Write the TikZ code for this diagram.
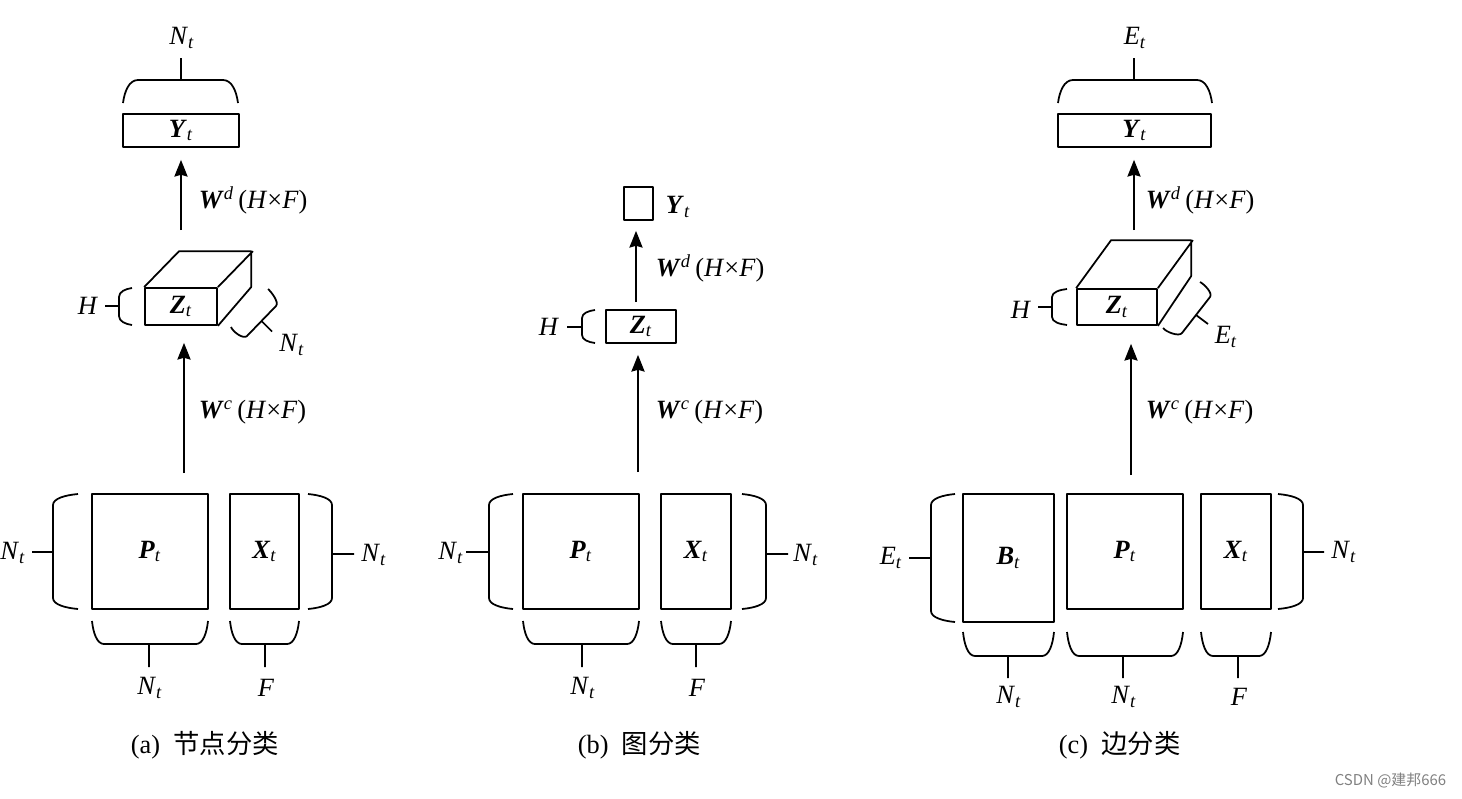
\documentclass[tikz,border=0pt]{standalone}
\usepackage{fontspec}
\setmainfont{Liberation Serif}
\newfontfamily\cjk{Noto Sans CJK SC}
\usetikzlibrary{arrows.meta}

\newcommand{\vsub}[2]{\textit{#1}\textsubscript{\textit{#2}}}
\newcommand{\bsub}[2]{\textbf{\textit{#1}}\textsubscript{\textit{#2}}}
\newcommand{\wlab}[1]{\textbf{\textit{W}}\textsuperscript{\textit{#1}}\,(\textit{H}×\textit{F})}
% horizontal bracket: x1, x2, y of ends, y of bar, bend, x of tick, y of tick end
\newcommand{\hbrk}[7]{\draw (#1,#3) .. controls ({#1+0.1*#5},{#3+0.5*(#4-#3)}) and ({#1+0.4*#5},#4) .. (#1+#5,#4) -- (#2-#5,#4)
  .. controls ({#2-0.4*#5},#4) and ({#2-0.1*#5},{#3+0.5*(#4-#3)}) .. (#2,#3) (#6,#4) -- (#6,#7);}
% vertical bracket: y1, y2, x of ends, x of bar, bend, y of tick, x of tick end
\newcommand{\vbrk}[7]{\draw (#3,#1) .. controls ({#3+0.5*(#4-#3)},{#1+0.1*#5}) and (#4,{#1+0.4*#5}) .. (#4,#1+#5) -- (#4,#2-#5)
  .. controls (#4,{#2-0.4*#5}) and ({#3+0.5*(#4-#3)},{#2-0.1*#5}) .. (#3,#2) (#4,#6) -- (#7,#6);}

\tikzset{box/.style={draw, inner sep=0pt},
         arw/.style={-{Stealth[length=9.5pt,width=7.5pt,inset=1pt]}},
         lbl/.style={inner sep=0pt}}

\begin{document}
\begin{tikzpicture}[x=0.02cm, y=-0.02cm, line width=1pt, line join=round, font=\fontsize{15}{18}\selectfont]
\useasboundingbox (0,0) rectangle (1462,798);
% (a)
\node[box, minimum width=2.32cm, minimum height=2.30cm] (Pa) at (150,551.5) {\bsub{P}{t}};
\node[box, minimum width=1.38cm, minimum height=2.30cm] (Xa) at (264.5,551.5) {\bsub{X}{t}};
\node[box, minimum width=1.44cm, minimum height=0.74cm] (Za) at (181,306.5) {\bsub{Z}{t}};
\node[box, minimum width=2.32cm, minimum height=0.66cm] (Ya) at (181,130.5) {\bsub{Y}{t}};
\draw (Za.north west) -- ++(35,-36) -- ++(72,0) -- ++(0,36) -- (Za.south east) (Za.north east) -- ++(35,-36);
\hbrk{123}{238}{103}{80}{15}{181}{58}
\hbrk{92}{208}{621}{644}{12}{149}{667}
\hbrk{230}{299}{621}{644}{12}{265}{667}
\vbrk{494}{609}{78}{53}{11}{552}{32}
\vbrk{494}{609}{308}{332}{11}{554}{354}
\vbrk{288}{325}{132}{119}{9}{306}{105}
\draw (231,327) .. controls (233,332) and (243.5,339.6) .. (247,336) -- (276,306) .. controls (279.5,302.4) and (271,291.5) .. (268,289)
      (261.5,321) -- (272,331.5);
\coordinate (a0) at (184,473);
\coordinate (a1) at (181,230);
\draw[arw, shorten >=0.34cm] (a0) -- (a0 |- Za.south);
\draw[arw, shorten >=0.24cm] (a1) -- (a1 |- Ya.south);
\node[lbl] (NYa) at (182,38) {\vsub{N}{t}};
\node[lbl] (NLa) at (13,553) {\vsub{N}{t}};
\node[lbl] (NRa) at (374,555) {\vsub{N}{t}};
\node[lbl] (NPa) at (150,688) {\vsub{N}{t}};
\node[lbl] (FXa) at (266,688) {\textit{F}};
\node[lbl] (HZa) at (88,306) {\textit{H}};
\node[lbl] (NZa) at (292,345) {\vsub{N}{t}};
\node[lbl, anchor=west] (Wda) at (198,200) {\wlab{d}};
\node[lbl, anchor=west] (Wca) at (198,412) {\wlab{c}};
\node[lbl, anchor=west] (capa) at (130,745) {(a)\ \ {\cjk 节点分类}};
% (b)
\node[box, minimum width=2.32cm, minimum height=2.30cm] (Pb) at (581,551.5) {\bsub{P}{t}};
\node[box, minimum width=1.40cm, minimum height=2.30cm] (Xb) at (696,551.5) {\bsub{X}{t}};
\node[box, minimum width=1.40cm, minimum height=0.66cm] (Zb) at (641,326.5) {\bsub{Z}{t}};
\node[box, minimum width=0.58cm, minimum height=0.66cm] (Yb) at (638.5,203.5) {};
\vbrk{310}{343}{595}{582}{8}{327}{567}
\vbrk{494}{609}{513}{489}{11}{552}{466}
\vbrk{494}{609}{742}{766}{11}{554}{788}
\hbrk{523}{639}{621}{644}{12}{582}{667}
\hbrk{661}{731}{621}{644}{12}{696}{667}
\coordinate (b0) at (638,472);
\coordinate (b1) at (636,302);
\draw[arw, shorten >=0.22cm] (b0) -- (b0 |- Zb.south);
\draw[arw, shorten >=0.2cm] (b1) -- (b1 |- Yb.south);
\node[lbl, anchor=west] (YLb) at (665,207) {\bsub{Y}{t}};
\node[lbl] (NLb) at (451,553) {\vsub{N}{t}};
\node[lbl] (NRb) at (806,555) {\vsub{N}{t}};
\node[lbl] (NPb) at (583,688) {\vsub{N}{t}};
\node[lbl] (FXb) at (697,688) {\textit{F}};
\node[lbl] (HZb) at (549,327) {\textit{H}};
\node[lbl, anchor=west] (Wdb) at (655,268) {\wlab{d}};
\node[lbl, anchor=west] (Wcb) at (655,412) {\wlab{c}};
\node[lbl, anchor=west] (capb) at (577,745) {(b)\ \ {\cjk 图分类}};
% (c)
\node[box, minimum width=1.82cm, minimum height=2.56cm] (Bc) at (1008.5,558) {\bsub{B}{t}};
\node[box, minimum width=2.32cm, minimum height=2.30cm] (Pc) at (1125,551.5) {\bsub{P}{t}};
\node[box, minimum width=1.40cm, minimum height=2.30cm] (Xc) at (1236,551.5) {\bsub{X}{t}};
\node[box, minimum width=1.60cm, minimum height=0.72cm] (Zc) at (1117,307) {\bsub{Z}{t}};
\node[box, minimum width=3.06cm, minimum height=0.66cm] (Yc) at (1134.5,130.5) {\bsub{Y}{t}};
\draw (Zc.north west) -- ++(35,-48) -- ++(80,0) -- ++(0,36) -- (Zc.south east) (Zc.north east) -- ++(35,-48);
\hbrk{1058}{1212}{103}{80}{15}{1134}{58}
\hbrk{963}{1054}{632}{656}{12}{1008}{678}
\hbrk{1067}{1183}{632}{656}{12}{1123}{678}
\hbrk{1201}{1271}{632}{656}{12}{1238}{678}
\vbrk{289}{325}{1067}{1052}{8}{307}{1038}
\vbrk{494}{622}{955}{931}{11}{558}{909}
\vbrk{494}{609}{1278}{1303}{11}{552}{1324}
\draw (1163,328) .. controls (1166,332) and (1179,337) .. (1182,333) -- (1210,297) .. controls (1213,293) and (1204,284) .. (1200,282)
      (1196,315) -- (1208,324);
\coordinate (c0) at (1131,475);
\coordinate (c1) at (1134,230);
\draw[arw, shorten >=0.36cm] (c0) -- (c0 |- Zc.south);
\draw[arw, shorten >=0.24cm] (c1) -- (c1 |- Yc.south);
\node[lbl] (EYc) at (1135,38) {\vsub{E}{t}};
\node[lbl] (ELc) at (891,558) {\vsub{E}{t}};
\node[lbl] (NRc) at (1344,552) {\vsub{N}{t}};
\node[lbl] (NBc) at (1009,697) {\vsub{N}{t}};
\node[lbl] (NPc) at (1124,697) {\vsub{N}{t}};
\node[lbl] (FXc) at (1239,697) {\textit{F}};
\node[lbl] (HZc) at (1021,310) {\textit{H}};
\node[lbl] (EZc) at (1226,337) {\vsub{E}{t}};
\node[lbl, anchor=west] (Wdc) at (1145,200) {\wlab{d}};
\node[lbl, anchor=west] (Wcc) at (1145,412) {\wlab{c}};
\node[lbl, anchor=west] (capc) at (1058,745) {(c)\ \ {\cjk 边分类}};
\node[lbl, anchor=east, text=gray, font=\cjk\fontsize{8.5}{10}\selectfont] (mark) at (1447,781) {CSDN @建邦666};
\end{tikzpicture}
\end{document}
